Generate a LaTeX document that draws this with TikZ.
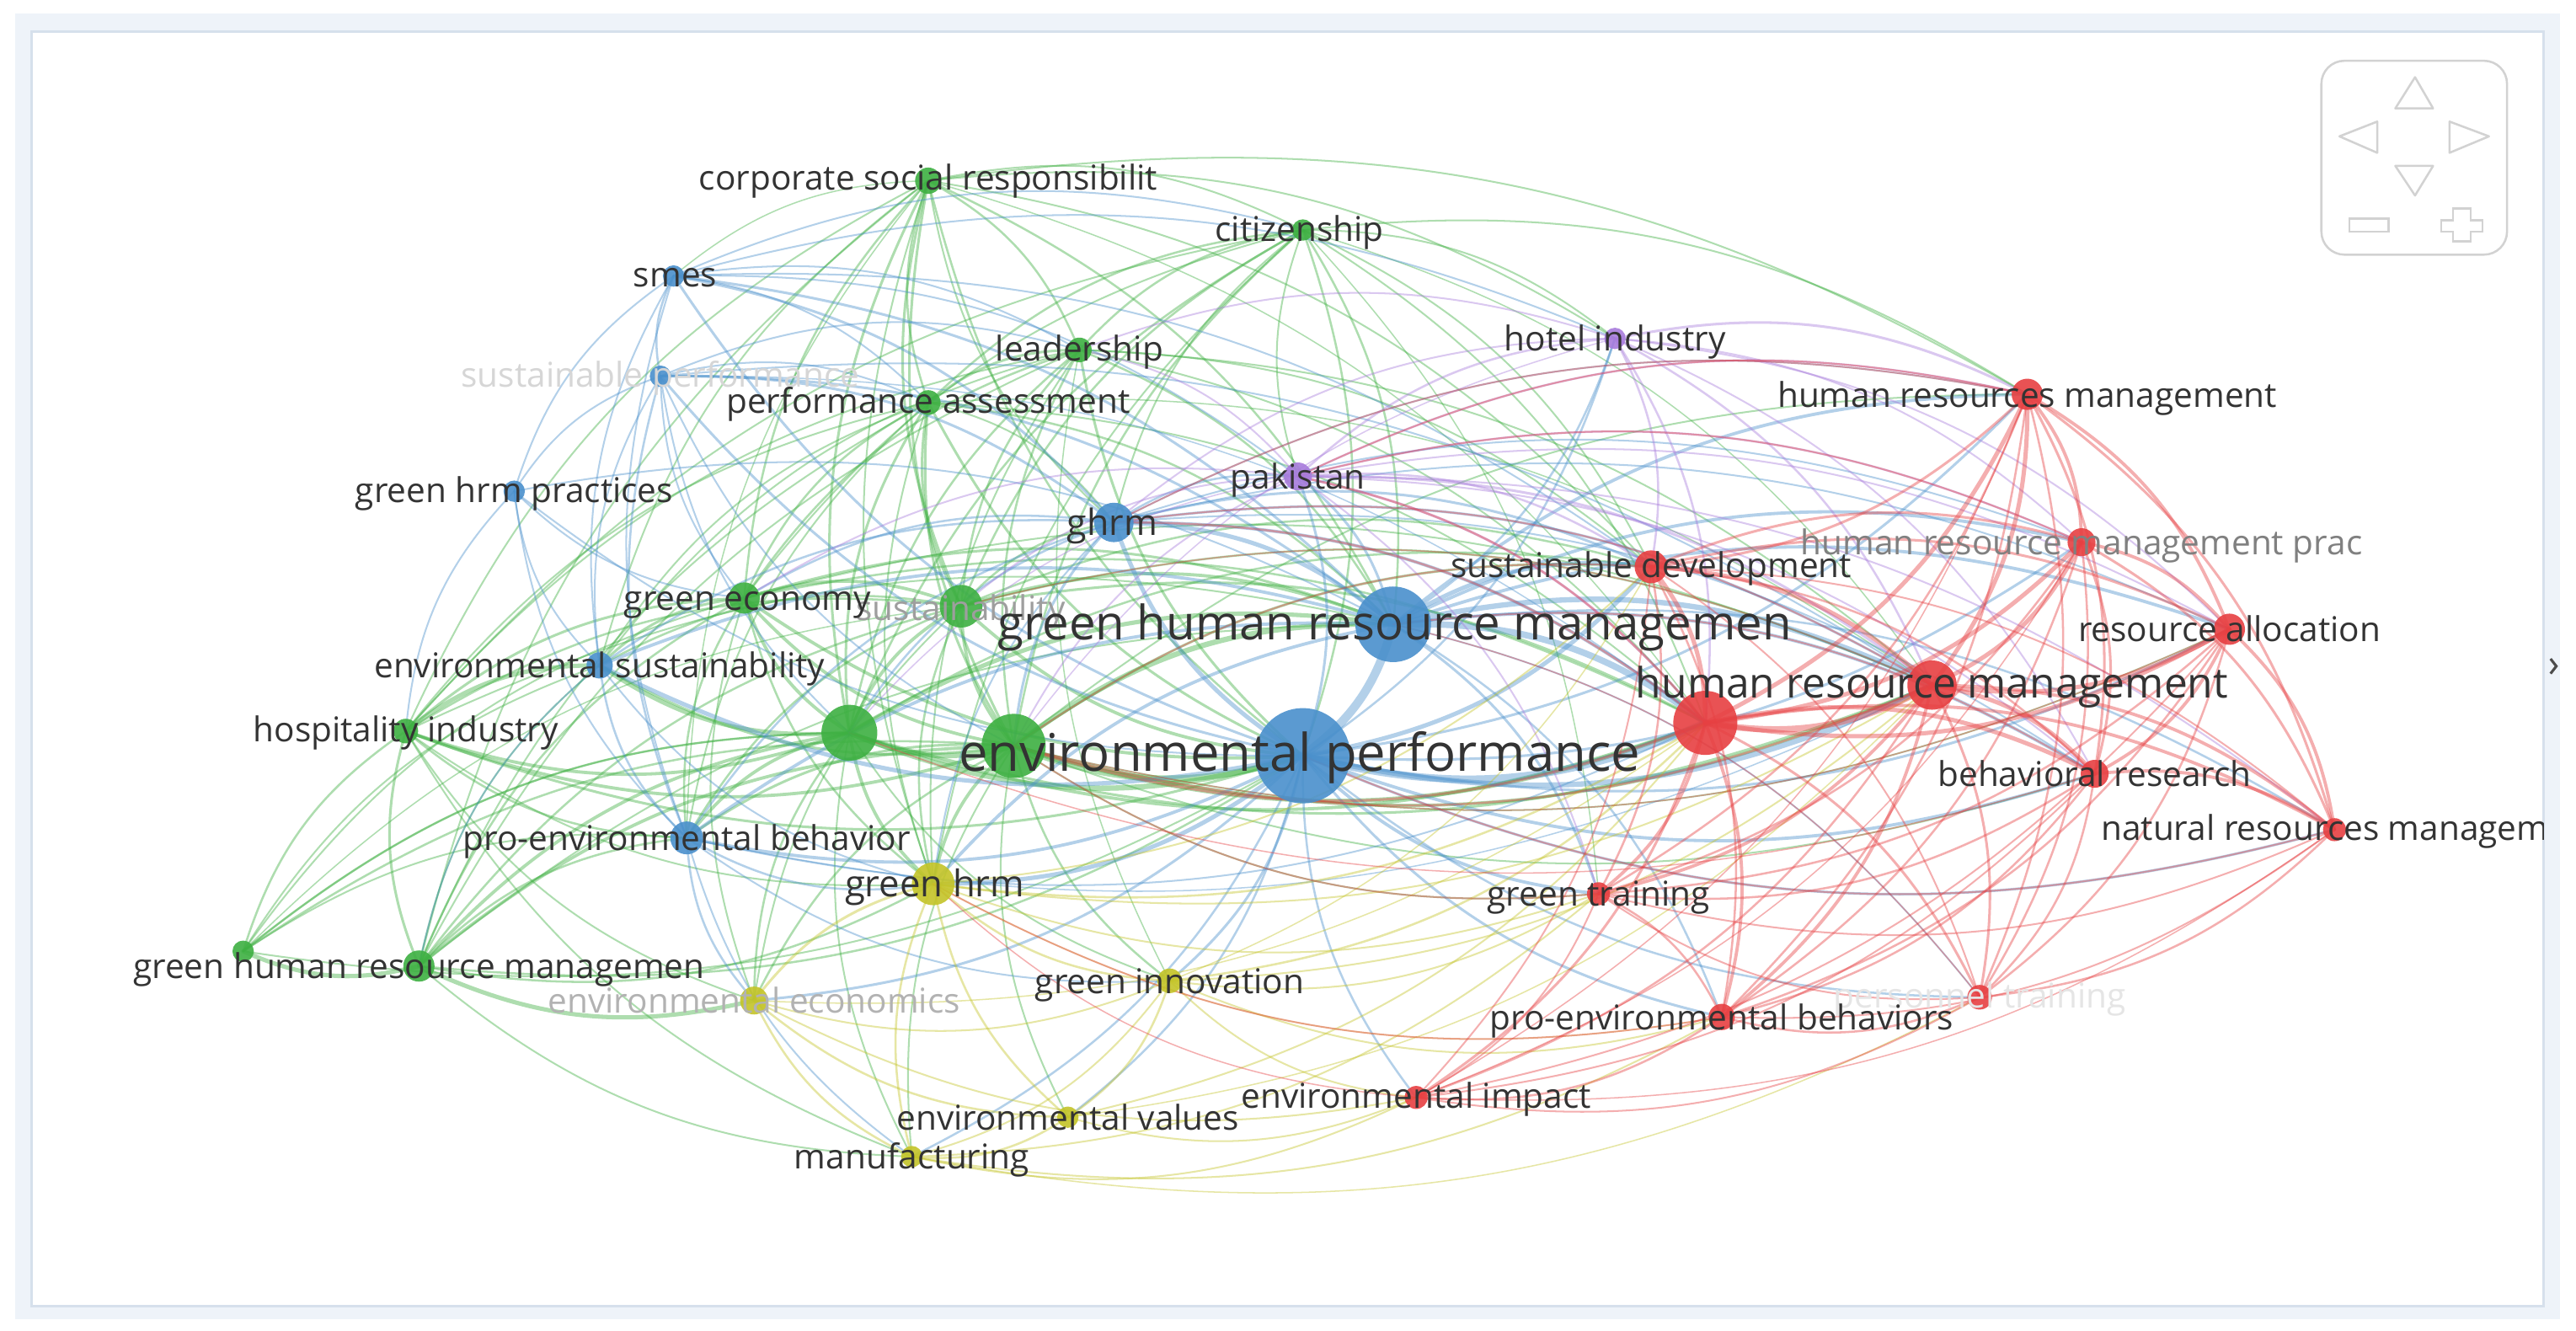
\documentclass[tikz,border=0pt]{standalone}
\usepackage{fontspec}
\setmainfont{Open Sans}
\pgfdeclarelayer{bg}
\pgfdeclarelayer{edges}
\pgfsetlayers{bg,edges,main}
\definecolor{vR}{RGB}{231,64,66}
\definecolor{vG}{RGB}{62,176,66}
\definecolor{vB}{RGB}{74,144,204}
\definecolor{vY}{RGB}{196,196,40}
\definecolor{vP}{RGB}{168,124,220}
\definecolor{lblc}{RGB}{51,51,51}
\definecolor{bandc}{RGB}{238,243,249}
\definecolor{framec}{RGB}{214,224,236}
\definecolor{ctrlc}{RGB}{210,210,210}
\newdimen\vdxa \newdimen\vdya \newdimen\vdxb \newdimen\vdyb
\newcommand\vosedges[2]{%
  \foreach \a/\b/\w in {#2}{%
    \pgfextractx{\vdxa}{\pgfpointanchor{\a}{center}}%
    \pgfextracty{\vdya}{\pgfpointanchor{\a}{center}}%
    \pgfextractx{\vdxb}{\pgfpointanchor{\b}{center}}%
    \pgfextracty{\vdyb}{\pgfpointanchor{\b}{center}}%
    \pgfmathsetmacro\bnd{((\vdxa-790pt)/100)*((\vdyb+430pt)/100)-((\vdya+430pt)/100)*((\vdxb-790pt)/100) < 0 ? 19 : -19}%
    \draw[edgeline, draw=#1, line width={1.3pt*\w}] (\a.center) to[bend left=\bnd] (\b.center);
  }}
\tikzset{
  edgeline/.style={draw opacity=0.42, line cap=round},
  vdot/.style={circle, inner sep=0pt, minimum size=#1pt, fill opacity=0.9, draw=none},
  lab/.style={font=\fontsize{#1}{#1}\selectfont, text=lblc, inner sep=0pt, anchor=mid, yshift={-0.24pt*#1}},
  lab/.default=20.8,
}
\begin{document}
\begin{tikzpicture}[x=1pt,y=-1pt]
\useasboundingbox (0,0) rectangle (1568,810);
\begin{pgfonlayer}{bg}
  \fill[white] (0,0) rectangle (1568,810);
  \fill[bandc] (9,8) rectangle (1558,803);
  \fill[white] (19,19) rectangle (1548,795);
  \draw[framec, line width=1.5pt] (19,19) rectangle (1548,795);
\end{pgfonlayer}
\begin{scope}
\clip (19,19) rectangle (1548,795);
% green
\node[vdot=16, fill=vG] (csr) at (565,110) {};
\node[vdot=13, fill=vG] (cit) at (793,140) {};
\node[vdot=15, fill=vG] (lead) at (657,213) {};
\node[vdot=15, fill=vG] (pa) at (565,245) {};
\node[vdot=19, fill=vG] (gec) at (453,364) {};
\node[vdot=26, fill=vG] (sus) at (585,369) {};
\node[vdot=34, fill=vG] (g1) at (517,446) {};
\node[vdot=39, fill=vG] (g2) at (617,454) {};
\node[vdot=15, fill=vG] (hosp) at (247,445) {};
\node[vdot=19, fill=vG] (ghrml) at (255,588) {};
\node[vdot=13, fill=vG] (g3) at (148,579) {};
% blue
\node[vdot=13, fill=vB] (smes) at (410,168) {};
\node[vdot=13, fill=vB] (sp) at (402,229) {};
\node[vdot=13, fill=vB] (ghp) at (313,299) {};
\node[vdot=24, fill=vB] (ghrm) at (678,318) {};
\node[vdot=46, fill=vB] (ghrmb) at (848,380) {};
\node[vdot=16, fill=vB] (es) at (365,405) {};
\node[vdot=58, fill=vB] (ep) at (793,460) {};
\node[vdot=20, fill=vB] (peb) at (418,510) {};
% purple
\node[vdot=13, fill=vP] (hotel) at (983,206) {};
\node[vdot=17, fill=vP] (pak) at (790,290) {};
% yellow
\node[vdot=26, fill=vY] (gh) at (568,538) {};
\node[vdot=17, fill=vY] (ee) at (459,609) {};
\node[vdot=15, fill=vY] (gi) at (712,597) {};
\node[vdot=13, fill=vY] (ev) at (650,680) {};
\node[vdot=13, fill=vY] (man) at (555,704) {};
% red
\node[vdot=20, fill=vR] (sd) at (1005,345) {};
\node[vdot=19, fill=vR] (hrsm) at (1234,240) {};
\node[vdot=17, fill=vR] (hrmp) at (1267,330) {};
\node[vdot=19, fill=vR] (ra) at (1357,383) {};
\node[vdot=30, fill=vR] (hrm) at (1176,417) {};
\node[vdot=39, fill=vR] (r1) at (1038,440) {};
\node[vdot=17, fill=vR] (br) at (1275,471) {};
\node[vdot=14, fill=vR] (nrm) at (1421,505) {};
\node[vdot=14, fill=vR] (gt) at (973,544) {};
\node[vdot=15, fill=vR] (pt) at (1205,607) {};
\node[vdot=16, fill=vR] (pebs) at (1048,619) {};
\node[vdot=14, fill=vR] (ei) at (862,668) {};
% labels
\node[lab, text=black!38] (sus-t) at (585,370) {sustainability};
\node[lab, text=black!16] (sp-t) at (402,228) {sustainable performance};
\node[lab, text=black!30] (ee-t) at (459,609) {environmental economics};
\node[lab, text=black!50] (hrmp-t) at (1267,330) {human resource management prac};
\node[lab, text=black!10] (pt-t) at (1205,606) {personnel training};
\node[lab] (csr-t) at (565,108) {corporate social responsibilit};
\node[lab] (cit-t) at (791,139) {citizenship};
\node[lab] (lead-t) at (657,212) {leadership};
\node[lab] (pa-t) at (565,244) {performance assessment};
\node[lab] (gec-t) at (455,364) {green economy};
\node[lab] (hosp-t) at (247,444) {hospitality industry};
\node[lab] (ghrml-t) at (255,588) {green human resource managemen};
\node[lab] (smes-t) at (411,167) {smes};
\node[lab] (ghp-t) at (313,298) {green hrm practices};
\node[lab=22] (ghrm-t) at (677,318) {ghrm};
\node[lab=28.9] (ghrmb-t) at (849,380) {green human resource managemen};
\node[lab] (es-t) at (365,405) {environmental sustainability};
\node[lab=31.6] (ep-t) at (791,459) {environmental performance};
\node[lab] (peb-t) at (418,510) {pro-environmental behavior};
\node[lab] (hotel-t) at (983,206) {hotel industry};
\node[lab] (pak-t) at (790,290) {pakistan};
\node[lab=22.4] (gh-t) at (569,538) {green hrm};
\node[lab] (gi-t) at (712,597) {green innovation};
\node[lab] (ev-t) at (650,680) {environmental values};
\node[lab] (man-t) at (555,704) {manufacturing};
\node[lab] (sd-t) at (1005,344) {sustainable development};
\node[lab] (hrsm-t) at (1234,240) {human resources management};
\node[lab] (ra-t) at (1357,383) {resource allocation};
\node[lab=25.5] (hrm-t) at (1176,416) {human resource management};
\node[lab] (br-t) at (1275,471) {behavioral research};
\node[lab] (nrm-t) at (1431,504) {natural resources management};
\node[lab] (gt-t) at (973,544) {green training};
\node[lab] (pebs-t) at (1048,619) {pro-environmental behaviors};
\node[lab] (ei-t) at (862,667) {environmental impact};
\end{scope}
\begin{pgfonlayer}{edges}
\clip (19,19) rectangle (1548,795);
\vosedges{vG}{csr/lead/1, csr/pa/1, csr/gec/1, csr/sus/1.2, csr/g1/1.2, csr/g2/1.2, csr/ep/1, csr/ghrmb/1, csr/cit/0.8, csr/hosp/0.8, csr/ghrml/0.8, csr/ghrm/0.8, csr/gh/0.8, csr/hrsm/0.8, csr/sd/0.8, csr/hotel/0.8, csr/es/0.8, csr/smes/0.6, csr/peb/0.6, csr/r1/0.6,
cit/lead/1, cit/pa/1, cit/sus/1, cit/g1/1, cit/g2/1, cit/ep/1, cit/ghrmb/1, cit/ghrm/0.8, cit/hotel/0.8, cit/pak/0.8, cit/sd/0.8, cit/hrsm/0.8, cit/gec/0.8, cit/r1/0.8, cit/gh/0.8, cit/hosp/0.8, cit/hrm/0.6, cit/gt/0.6,
lead/pa/1.2, lead/sus/1, lead/g1/1, lead/g2/1, lead/ep/1.2, lead/ghrmb/1, lead/gec/1, lead/hosp/0.8, lead/ghrml/0.8, lead/gh/0.8, lead/r1/0.8, lead/hrm/0.8, lead/es/0.8, lead/sd/0.8, lead/gi/0.6,
pa/gec/1, pa/sus/1.2, pa/g1/1.2, pa/g2/1.2, pa/ep/1.2, pa/ghrmb/1, pa/hosp/0.8, pa/ghrml/0.8, pa/gh/0.8, pa/r1/0.8, pa/es/0.8, pa/peb/0.8, pa/hrm/0.6, pa/ghrm/0.8,
gec/sus/1.5, gec/g1/1.5, gec/g2/1.5, gec/ep/1.5, gec/ghrmb/1.2, gec/hosp/1.2, gec/es/1.2, gec/ghrml/1, gec/peb/1, gec/gh/1, gec/g3/0.8, gec/r1/1, gec/hrm/0.8, gec/ee/0.8,
sus/g1/1.5, sus/g2/1.5, sus/ep/1.5, sus/ghrmb/1.5, sus/hosp/1, sus/ghrml/1, sus/gh/1, sus/r1/1.2, sus/hrm/1, sus/sd/1, sus/ee/0.8, sus/ghrm/1, sus/peb/1, sus/es/1, sus/g3/0.6,
g1/g2/2.5, g1/ep/2.5, g1/ghrmb/2, g1/hosp/1.5, g1/es/2, g1/ghrml/1.5, g1/peb/1.5, g1/gh/1.5, g1/ee/1, g1/g3/1, g1/r1/1.5, g1/hrm/1.2, g1/man/0.8, g1/sd/1, g1/gi/0.8,
g2/ep/3, g2/ghrmb/2.5, g2/hosp/1.5, g2/ghrml/1.5, g2/peb/1.2, g2/gh/1.5, g2/gi/1, g2/ee/1, g2/r1/2, g2/hrm/1.5, g2/sd/1.2, g2/man/0.8, g2/ev/0.8, g2/g3/1, g2/es/1.2, g2/hrsm/0.8, g2/ra/0.8, g2/br/0.8, g2/gt/0.8,
hosp/es/2, hosp/ghrml/1.2, hosp/g3/1, hosp/peb/1, hosp/ep/1.2, hosp/ee/0.8, hosp/gh/0.8, hosp/man/0.8, hosp/ghrmb/0.8,
ghrml/g3/2, ghrml/ee/2, ghrml/ep/1, ghrml/gh/1, ghrml/man/0.8, ghrml/peb/1, ghrml/ghrmb/0.8, ghrml/es/0.8,
g3/peb/0.8, g3/ep/0.8, g3/es/0.8, g3/g1/0.8}
\vosedges{vB}{smes/sp/1, smes/ghp/0.8, smes/ghrm/1.2, smes/ghrmb/1.2, smes/ep/1.2, smes/es/0.8, smes/peb/0.8, smes/lead/0.8, smes/cit/0.8, smes/pak/0.8, smes/hotel/0.8, smes/sd/0.8, smes/pa/0.8,
sp/ghp/0.8, sp/ghrm/1.2, sp/ghrmb/1.2, sp/ep/1.2, sp/es/0.8, sp/peb/1, sp/gec/0.8, sp/lead/0.8, sp/pa/0.8, sp/g2/0.8, sp/hrm/0.8, sp/g1/0.8, sp/r1/0.6,
ghp/es/0.8, ghp/peb/0.8, ghp/ghrmb/0.8, ghp/ep/0.8, ghp/gec/0.8, ghp/hosp/0.8,
ghrm/ghrmb/2, ghrm/ep/2, ghrm/r1/1.5, ghrm/hrm/1.2, ghrm/sd/1.2, ghrm/pak/1, ghrm/gec/1, ghrm/g1/1, ghrm/g2/1.2, ghrm/es/1, ghrm/peb/1, ghrm/hrsm/0.8, ghrm/gh/0.8, ghrm/hrmp/0.8, ghrm/ra/0.8, ghrm/br/0.8,
ghrmb/ep/4, ghrmb/r1/3, ghrmb/hrm/2.5, ghrmb/sd/2, ghrmb/hrsm/1.5, ghrmb/hrmp/1.5, ghrmb/ra/1.5, ghrmb/br/1.5, ghrmb/es/1.5, ghrmb/peb/1.5, ghrmb/gh/1.5, ghrmb/pak/1.2, ghrmb/hotel/1, ghrmb/gt/1.2, ghrmb/nrm/1, ghrmb/pebs/1, ghrmb/pt/0.8,
ep/r1/3.5, ep/hrm/2.5, ep/sd/2, ep/es/2, ep/peb/1.5, ep/gh/2, ep/gi/1.2, ep/ee/1.2, ep/ev/1, ep/man/1, ep/gt/1.5, ep/pebs/1.2, ep/br/1.5, ep/ra/1.2, ep/hrsm/1.2, ep/hrmp/1.2, ep/nrm/1.2, ep/pt/1, ep/ei/1, ep/pak/1.2, ep/hotel/1,
es/peb/1, es/gh/0.8, es/ghrml/0.8,
peb/gh/1, peb/ee/1, peb/man/0.8, peb/gi/0.8, peb/r1/0.8, peb/hrm/0.6}
\vosedges{vP}{hotel/pak/1, hotel/hrsm/1.2, hotel/sd/1, hotel/hrm/1, hotel/r1/1, hotel/hrmp/0.8, hotel/ra/0.8, hotel/br/0.8, hotel/lead/0.8, hotel/ghrm/0.8, hotel/g2/0.6,
pak/sd/1, pak/hrm/1.2, pak/r1/1.2, pak/hrsm/1, pak/hrmp/1, pak/ra/0.8, pak/br/0.8, pak/nrm/0.8, pak/gt/0.8, pak/lead/0.8, pak/gec/0.8, pak/g2/0.8, pak/sus/0.8, pak/g1/0.6}
\vosedges{vY}{gh/ee/1.2, gh/gi/1, gh/ev/1, gh/man/1, gh/r1/1, gh/hrm/0.8, gh/gt/0.8, gh/sd/0.8, gh/pebs/0.6,
ee/man/1, ee/ev/1, ee/gi/0.8, ee/ei/0.8, ee/r1/0.6,
man/ev/1, man/gi/0.8, man/ei/0.8, man/pebs/0.8, man/gt/0.8, man/pt/0.6,
ev/gi/1, ev/ei/0.8, ev/r1/0.8, ev/hrm/0.6,
gi/r1/1, gi/gt/0.8, gi/ei/0.8, gi/hrm/0.8, gi/pebs/0.8, gi/sd/0.6}
\vosedges{vR}{hrm/r1/3, hrm/sd/2, hrm/hrsm/2, hrm/hrmp/2, hrm/ra/2, hrm/br/2, hrm/nrm/1.5, hrm/gt/1.5, hrm/pt/1.2, hrm/pebs/1.5, hrm/ei/1,
r1/sd/2, r1/hrsm/2, r1/hrmp/2, r1/ra/2, r1/br/2, r1/nrm/1.5, r1/gt/1.5, r1/pt/1.2, r1/pebs/1.5, r1/ei/1.2,
sd/hrsm/1.2, sd/hrmp/1.2, sd/ra/1.2, sd/br/1, sd/gt/1, sd/pebs/1, sd/nrm/0.8, sd/pt/0.8, sd/ei/0.8,
hrsm/hrmp/1.5, hrsm/ra/1.5, hrsm/br/1.2, hrsm/nrm/1.2, hrsm/pt/1, hrsm/pebs/1, hrsm/gt/1, hrsm/ei/0.6,
hrmp/ra/1.5, hrmp/br/1.2, hrmp/nrm/1.2, hrmp/pt/1, hrmp/pebs/1, hrmp/gt/1, hrmp/ei/0.6,
ra/br/1.5, ra/nrm/1.5, ra/pt/1, ra/pebs/1, ra/gt/1, ra/ei/0.8,
br/nrm/1.5, br/pt/1, br/pebs/1, br/gt/1, br/ei/0.8,
nrm/pt/1, nrm/pebs/0.8, nrm/gt/0.8, nrm/ei/0.6,
gt/pebs/1, gt/pt/0.8, gt/ei/0.8,
pt/pebs/1, pt/ei/0.8,
pebs/ei/1,
r1/g2/1.2, r1/ghrm/1, r1/pak/1, hrm/ghrm/0.8, hrm/g2/1, sd/g2/0.8, hrsm/ghrm/0.8, hrsm/pak/0.8, hrmp/pak/0.8, br/ghrmb/0.8, nrm/ep/0.8, pebs/gh/0.8, ei/gh/0.6, gt/g2/0.8, pt/ghrmb/0.6, ra/g2/0.6, hrm/sus/0.6, br/g1/0.6}
\end{pgfonlayer}
% navigation panel
\draw[ctrlc, line width=1.3pt, rounded corners=14pt] (1413,37) rectangle (1526,155);
\draw[ctrlc, line width=1.3pt, line join=round] (1470,47) -- (1458,66) -- (1481,66) -- cycle;
\draw[ctrlc, line width=1.3pt, line join=round] (1424,83) -- (1447,74) -- (1447,93) -- cycle;
\draw[ctrlc, line width=1.3pt, line join=round] (1515,83) -- (1491,74) -- (1491,93) -- cycle;
\draw[ctrlc, line width=1.3pt, line join=round] (1470,119) -- (1458,101) -- (1481,101) -- cycle;
\draw[ctrlc, line width=1.3pt] (1430,133) rectangle (1454,141);
\draw[ctrlc, line width=1.3pt] (1493,127) -- (1504,127) -- (1504,134) -- (1511,134) -- (1511,141) -- (1504,141) -- (1504,147) -- (1493,147) -- (1493,141) -- (1486,141) -- (1486,134) -- (1493,134) -- cycle;
% partly hidden chevron at the right edge
\draw[black!70, line width=1.6pt] (1552.5,401) -- (1556,405.5) -- (1552.5,410);
\end{tikzpicture}
\end{document}
